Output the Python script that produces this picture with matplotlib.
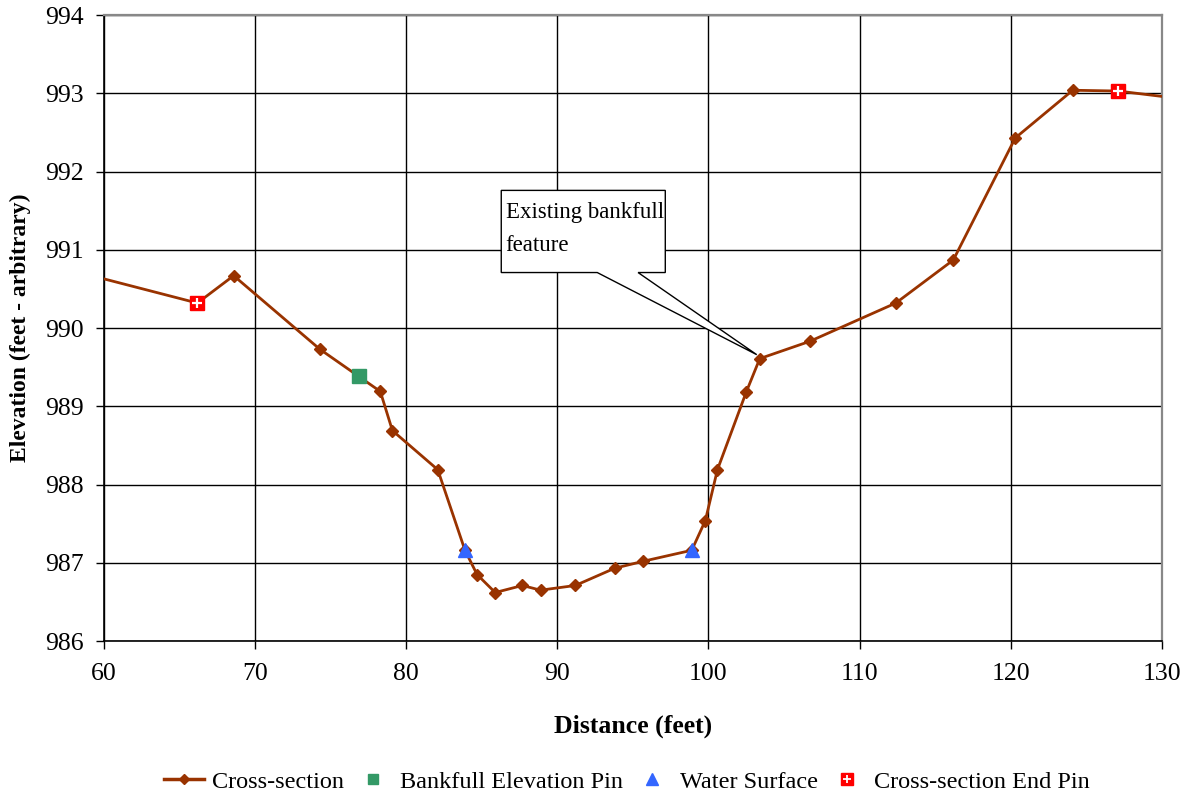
import matplotlib
matplotlib.use("Agg")
import matplotlib.pyplot as plt
from matplotlib.lines import Line2D
from matplotlib.patches import Polygon
from matplotlib.legend_handler import HandlerBase

plt.rcParams["font.family"] = ["Liberation Serif", "DejaVu Serif"]

# ---------- data ----------
dist = [57.0, 66.2, 68.6, 74.3, 78.3, 79.1, 82.1, 83.9, 84.7, 85.9, 87.7, 88.9,
        91.2, 93.8, 95.7, 98.9, 99.8, 100.6, 102.5, 103.4, 106.7, 112.4, 116.2,
        120.3, 124.1, 127.1, 133.0]
elev = [990.78, 990.32, 990.67, 989.73, 989.19, 988.69, 988.19, 987.16, 986.85,
        986.62, 986.71, 986.65, 986.71, 986.93, 987.02, 987.16, 987.54, 988.19,
        989.18, 989.61, 989.83, 990.32, 990.87, 992.43, 993.04, 993.03, 992.89]

bankfull_x = [76.9]
bankfull_y = [989.39]
water_x = [83.9, 98.9]
water_y = [987.16, 987.16]
endpin_x = [66.2, 127.1]
endpin_y = [990.32, 993.03]

x_ticks = [60, 70, 80, 90, 100, 110, 120, 130]
y_ticks = [986, 987, 988, 989, 990, 991, 992, 993, 994]

note_text = "Existing bankfull\nfeature"
note_point = (103.2, 989.66)   # where the callout points to
note_box = (86.3, 97.15, 990.71, 991.76)  # left, right, bottom, top
note_base = (92.65, 95.35)     # wedge base on bottom edge

BROWN = "#993300"
GREEN = "#339966"
BLUE = "#3366FF"
RED = "#FF0000"
FS = 18.5
FS_LEG = 17.5
# ---------------------------------------------


class PinHandler(HandlerBase):
    # red square with a white cross, both centred in the legend slot
    def create_artists(self, legend, orig_handle, xdescent, ydescent,
                       width, height, fontsize, trans):
        cx = width / 2 - xdescent
        cy = height / 2 - ydescent
        sq = Line2D([cx], [cy], ls="none", marker="s", ms=8.5, color=RED, transform=trans)
        pl = Line2D([cx], [cy], ls="none", marker="+", ms=5.5, mew=1.3, color="white",
                    transform=trans)
        return [sq, pl]


fig = plt.figure(figsize=(11.9, 7.97), dpi=100)
ax = fig.add_axes([0.0871, 0.1957, 0.8893, 0.7853])

ax.plot(dist, elev, color=BROWN, lw=2.0, marker="D", ms=6.5, zorder=3)
ax.plot(bankfull_x, bankfull_y, ls="none", marker="s", ms=9.5, color=GREEN, zorder=4)
ax.plot(water_x, water_y, ls="none", marker="^", ms=10, color=BLUE, zorder=4)
ax.plot(endpin_x, endpin_y, ls="none", marker="s", ms=10.5, color=RED, zorder=4)
ax.plot(endpin_x, endpin_y, ls="none", marker="+", ms=7, mew=1.6, color="white", zorder=5)

ax.set_xlim(60, 130)
ax.set_ylim(986, 994)
ax.set_xticks(x_ticks)
ax.set_yticks(y_ticks)
ax.grid(True, color="black", lw=1.0)
ax.set_axisbelow(True)
ax.tick_params(axis="both", direction="out", length=6, width=1.0, labelsize=FS)
ax.tick_params(axis="x", pad=10)
ax.tick_params(axis="y", pad=8)

for s in ("left", "bottom"):
    ax.spines[s].set_color("black")
    ax.spines[s].set_linewidth(1.2)
for s in ("top", "right"):
    ax.spines[s].set_color("#888888")
    ax.spines[s].set_linewidth(1.6)

ax.set_xlabel("Distance (feet)", fontsize=FS, fontweight="bold")
ax.xaxis.label.set_va("center")
ax.xaxis.set_label_coords(0.5, -0.136)
ax.set_ylabel("Elevation (feet - arbitrary)", fontsize=17, fontweight="bold")
ax.yaxis.label.set_va("center")
ax.yaxis.set_label_coords(-0.079, 0.5)

# callout box with wedge pointer
l, r, b, t = note_box
callout = Polygon([(l, t), (r, t), (r, b), (note_base[1], b), note_point,
                   (note_base[0], b), (l, b)],
                  closed=True, facecolor="white", edgecolor="black", lw=1.0, zorder=6)
ax.add_patch(callout)
ax.text(l + 0.3, t - 0.15, note_text, fontsize=16.5, va="top", ha="left",
        linespacing=1.75, zorder=7)

pin_handle = Line2D([], [], ls="none", marker="s", color=RED)
handles = [
    Line2D([], [], color=BROWN, lw=2.5, marker="D", ms=5),
    Line2D([], [], ls="none", marker="s", ms=7, color=GREEN),
    Line2D([], [], ls="none", marker="^", ms=8, color=BLUE),
    pin_handle,
]
labels = ["Cross-section", "Bankfull Elevation Pin", "Water Surface", "Cross-section End Pin"]
fig.legend(handles, labels, loc="center", bbox_to_anchor=(0.527, 0.019), ncol=4,
           frameon=False, fontsize=FS_LEG, handlelength=1.65, handletextpad=0.3,
           columnspacing=0.38, numpoints=1,
           handler_map={pin_handle: PinHandler()})

fig.savefig("out.png", dpi=100)
